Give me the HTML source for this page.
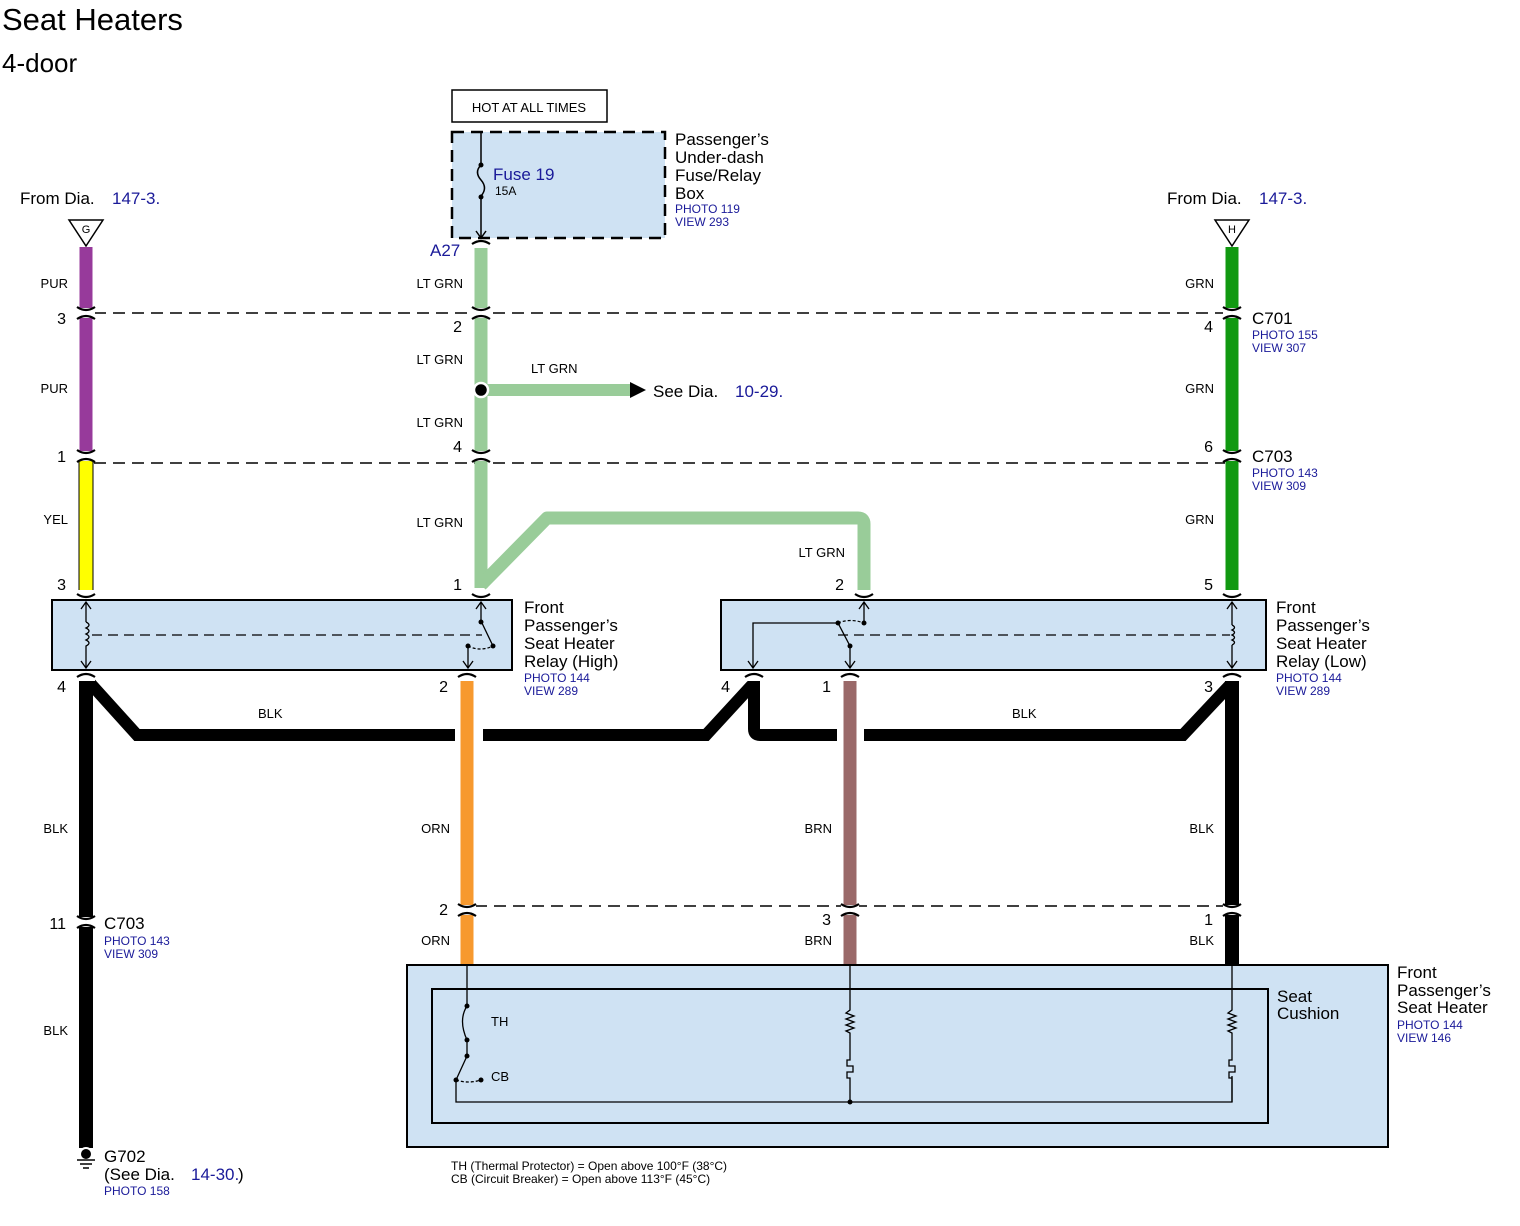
<!DOCTYPE html>
<html><head><meta charset="utf-8"><style>
body{margin:0;background:#fff}
svg{display:block;font-family:"Liberation Sans",Arial,sans-serif}
.b{fill:#1a1a99}
</style></head><body>
<svg width="1520" height="1226" viewBox="0 0 1520 1226" xmlns="http://www.w3.org/2000/svg">
<defs>
<g id="c"><rect x="-9" y="-5" width="18" height="10" fill="#fff"/><path d="M-9,-6 Q0,0 9,-6 M-9,6 Q0,0 9,6" stroke="#000" stroke-width="2.2" fill="none"/></g>
<g id="ct"><rect x="-9" y="0" width="18" height="6" fill="#fff"/><path d="M-9,2 Q0,-4 9,2" stroke="#000" stroke-width="2.2" fill="none"/></g>
<g id="cb"><rect x="-9" y="-6" width="18" height="6" fill="#fff"/><path d="M-9,-2 Q0,4 9,-2" stroke="#000" stroke-width="2.2" fill="none"/></g>
</defs>
<text x="2" y="30" font-size="31">Seat Heaters</text>
<text x="2" y="72" font-size="26">4-door</text>

<rect x="452" y="90" width="155" height="32" fill="#fff" stroke="#000" stroke-width="1.5"/>
<text x="529" y="112" font-size="13" text-anchor="middle">HOT AT ALL TIMES</text>
<rect x="452" y="132" width="213" height="106" fill="#cfe2f3" stroke="#000" stroke-width="2.5" stroke-dasharray="12,7"/>
<path d="M481,132 V165 Q474,172 481,180 Q488,188 481,196 V238 M476,231 L481,238 L486,231" stroke="#000" stroke-width="1.5" fill="none"/>
<circle cx="481" cy="165" r="2.5"/><circle cx="481" cy="197" r="2.5"/>
<text x="493" y="180" font-size="17" class="b">Fuse 19</text>
<text x="495" y="195" font-size="12">15A</text>
<g font-size="17"><text x="675" y="145">Passenger’s</text><text x="675" y="163">Under-dash</text><text x="675" y="181">Fuse/Relay</text><text x="675" y="199">Box</text></g>
<text x="675" y="213" font-size="12" class="b">PHOTO 119</text><text x="675" y="226" font-size="12" class="b">VIEW 293</text>
<text x="430" y="256" font-size="17" class="b">A27</text>

<text x="20" y="204" font-size="17">From Dia.</text><text x="112" y="204" font-size="17" class="b">147-3.</text>
<path d="M69,220 H103 L86,246 Z" fill="#fff" stroke="#000" stroke-width="1.5"/><text x="86" y="233" font-size="11" text-anchor="middle">G</text>
<text x="1167" y="204" font-size="17">From Dia.</text><text x="1259" y="204" font-size="17" class="b">147-3.</text>
<path d="M1215,220 H1249 L1232,246 Z" fill="#fff" stroke="#000" stroke-width="1.5"/><text x="1232" y="233" font-size="11" text-anchor="middle">H</text>

<g stroke="#000" stroke-width="1.5" stroke-dasharray="12,7" fill="none">
<path d="M94,313 H1225"/><path d="M94,463 H1225"/><path d="M475,906 H1225"/>
</g>

<g fill="none" stroke-width="13">
<path d="M86,247 V455" stroke="#973a9b"/>
<path d="M86,460 V593" stroke="#ffff00"/>
<path d="M86,460 V593" stroke="#000" stroke-width="1" transform="translate(-7,0)"/>
<path d="M86,460 V593" stroke="#000" stroke-width="1" transform="translate(7,0)"/>
<path d="M481,247 V588" stroke="#99cc99"/>
<path d="M481,585 L547,518 H858 Q864,518 864,524 V593" stroke="#99cc99" stroke-linejoin="round"/>
<path d="M481,390 H632" stroke="#99cc99" stroke-width="12"/>
<path d="M1232,247 V593" stroke="#119911"/>
<path d="M86,678 V1148" stroke="#000" stroke-width="14"/>
<path d="M90,683 L137,735 H455" stroke="#000" stroke-width="12"/>
<path d="M483,735 H706 L752,685" stroke="#000" stroke-width="12"/>
<path d="M754,678 V729 Q754,735 760,735 H837" stroke="#000" stroke-width="12"/>
<path d="M864,735 H1183 L1230,685" stroke="#000" stroke-width="12"/>
<path d="M1232,678 V965" stroke="#000" stroke-width="14"/>
<path d="M467,678 V965" stroke="#f7992e"/>
<path d="M850,678 V965" stroke="#9a6969"/>
</g>
<path d="M630,382 L646,390 L630,398 Z"/>
<circle cx="481" cy="390" r="7" fill="#000" stroke="#fff" stroke-width="2.5"/>
<text x="653" y="397" font-size="17">See Dia.</text><text x="735" y="397" font-size="17" class="b">10-29.</text>
<text x="531" y="373" font-size="13">LT GRN</text>

<use href="#c" x="86" y="313"/><use href="#c" x="481" y="313"/><use href="#c" x="1232" y="313"/>
<use href="#c" x="86" y="456"/><use href="#c" x="481" y="456"/><use href="#c" x="1232" y="456"/>
<use href="#ct" x="481" y="242"/>
<use href="#c" x="467" y="910"/><use href="#c" x="850" y="910"/><use href="#c" x="1232" y="910"/>
<use href="#c" x="86" y="922"/>
<use href="#cb" x="86" y="596"/><use href="#cb" x="481" y="596"/><use href="#cb" x="864" y="596"/><use href="#cb" x="1232" y="596"/>
<use href="#ct" x="86" y="675"/><use href="#ct" x="467" y="675"/><use href="#ct" x="754" y="675"/><use href="#ct" x="850" y="675"/><use href="#ct" x="1232" y="675"/>

<g font-size="13" text-anchor="end">
<text x="68" y="288">PUR</text><text x="68" y="393">PUR</text><text x="68" y="524">YEL</text>
<text x="68" y="833">BLK</text><text x="68" y="1035">BLK</text>
<text x="463" y="288">LT GRN</text><text x="463" y="364">LT GRN</text><text x="463" y="427">LT GRN</text><text x="463" y="527">LT GRN</text>
<text x="845" y="557">LT GRN</text>
<text x="1214" y="288">GRN</text><text x="1214" y="393">GRN</text><text x="1214" y="524">GRN</text>
<text x="450" y="833">ORN</text><text x="450" y="945">ORN</text>
<text x="832" y="833">BRN</text><text x="832" y="945">BRN</text>
<text x="1214" y="833">BLK</text><text x="1214" y="945">BLK</text>
</g>
<text x="258" y="718" font-size="13">BLK</text><text x="1012" y="718" font-size="13">BLK</text>

<g font-size="16" text-anchor="end">
<text x="66" y="324">3</text><text x="462" y="332">2</text><text x="1213" y="332">4</text>
<text x="66" y="462">1</text><text x="462" y="452">4</text><text x="1213" y="452">6</text>
<text x="66" y="590">3</text><text x="462" y="590">1</text><text x="844" y="590">2</text><text x="1213" y="590">5</text>
<text x="66" y="692">4</text><text x="448" y="692">2</text><text x="730" y="692">4</text><text x="831" y="692">1</text><text x="1213" y="692">3</text>
<text x="448" y="915">2</text><text x="831" y="925">3</text><text x="1213" y="925">1</text>
<text x="66" y="929">11</text>
</g>
<g font-size="17"><text x="1252" y="324">C701</text><text x="1252" y="462">C703</text><text x="104" y="929">C703</text></g>
<g font-size="12" class="b">
<text x="1252" y="339">PHOTO 155</text><text x="1252" y="352">VIEW 307</text>
<text x="1252" y="477">PHOTO 143</text><text x="1252" y="490">VIEW 309</text>
<text x="104" y="945">PHOTO 143</text><text x="104" y="958">VIEW 309</text>
</g>

<rect x="52" y="600" width="460" height="70" fill="#cfe2f3" stroke="#000" stroke-width="2"/>
<path d="M86,602 V622 M86,648 V668 M81,609 L86,602 L91,609 M81,661 L86,668 L91,661" stroke="#000" stroke-width="1.3" fill="none"/>
<path d="M86,622 q6,3 0,6 q6,3 0,6 q6,3 0,6 q6,3 0,6 V648" stroke="#000" stroke-width="1.3" fill="none"/>
<path d="M92,635 H482" stroke="#000" stroke-width="1.2" stroke-dasharray="10,6"/>
<path d="M481,602 V621 L493,646 M476,609 L481,602 L486,609 M468,646 V668 M463,661 L468,668 L473,661" stroke="#000" stroke-width="1.3" fill="none"/>
<path d="M468,646 Q480,652 493,646" stroke="#000" stroke-width="1.2" stroke-dasharray="3,2" fill="none"/>
<circle cx="481" cy="622" r="2.5"/><circle cx="493" cy="646" r="2.5"/><circle cx="468" cy="646" r="2.5"/>
<g font-size="17"><text x="524" y="613">Front</text><text x="524" y="631">Passenger’s</text><text x="524" y="649">Seat Heater</text><text x="524" y="667">Relay (High)</text></g>
<text x="524" y="682" font-size="12" class="b">PHOTO 144</text><text x="524" y="695" font-size="12" class="b">VIEW 289</text>

<rect x="721" y="600" width="545" height="70" fill="#cfe2f3" stroke="#000" stroke-width="2"/>
<path d="M1232,602 V625 M1232,645 V668 M1227,609 L1232,602 L1237,609 M1227,661 L1232,668 L1237,661" stroke="#000" stroke-width="1.3" fill="none"/>
<path d="M1232,625 q5,2.5 0,5 q5,2.5 0,5 q5,2.5 0,5 q5,2.5 0,5" stroke="#000" stroke-width="1.3" fill="none"/>
<path d="M838,635 H1230" stroke="#000" stroke-width="1.2" stroke-dasharray="10,6"/>
<path d="M864,602 V622 M859,609 L864,602 L869,609 M838,623 H753 V668 M748,661 L753,668 L758,661 M838,623 L850,646 V668 M845,661 L850,668 L855,661" stroke="#000" stroke-width="1.3" fill="none"/>
<path d="M838,623 Q850,618 864,623" stroke="#000" stroke-width="1.2" stroke-dasharray="3,2" fill="none"/>
<circle cx="838" cy="623" r="2.5"/><circle cx="864" cy="623" r="2.5"/><circle cx="850" cy="646" r="2.5"/>
<g font-size="17"><text x="1276" y="613">Front</text><text x="1276" y="631">Passenger’s</text><text x="1276" y="649">Seat Heater</text><text x="1276" y="667">Relay (Low)</text></g>
<text x="1276" y="682" font-size="12" class="b">PHOTO 144</text><text x="1276" y="695" font-size="12" class="b">VIEW 289</text>

<rect x="407" y="965" width="981" height="182" fill="#cfe2f3" stroke="#000" stroke-width="2"/>
<rect x="432" y="989" width="836" height="134" fill="none" stroke="#000" stroke-width="2"/>
<g stroke="#000" stroke-width="1.3" fill="none">
<path d="M467,965 V1006 Q458,1020 467,1040 V1056 L456,1080 V1102 H1232 V1076"/>
<path d="M456,1080 Q468,1084 481,1080" stroke-dasharray="3,2"/>
<path d="M850,965 V1010 l-4,3 8,3 -8,3 8,3 -8,3 8,3 -8,3 4,2 V1060 h-3 v6 h6 v6 h-6 v6 h3 V1102"/>
<path d="M1232,965 V1010 l-4,3 8,3 -8,3 8,3 -8,3 8,3 -8,3 4,2 V1060 h-3 v6 h6 v6 h-6 v6 h3 V1102"/>
</g>
<circle cx="467" cy="1006" r="2.5"/><circle cx="467" cy="1040" r="2.5"/><circle cx="467" cy="1056" r="2.5"/><circle cx="456" cy="1080" r="2.5"/><circle cx="481" cy="1080" r="2.5"/><circle cx="850" cy="1102" r="2.5"/>
<text x="491" y="1026" font-size="13">TH</text><text x="491" y="1081" font-size="13">CB</text>
<g font-size="17"><text x="1277" y="1002">Seat</text><text x="1277" y="1019">Cushion</text>
<text x="1397" y="978">Front</text><text x="1397" y="996">Passenger’s</text><text x="1397" y="1013">Seat Heater</text></g>
<text x="1397" y="1029" font-size="12" class="b">PHOTO 144</text><text x="1397" y="1042" font-size="12" class="b">VIEW 146</text>
<text x="451" y="1170" font-size="12">TH (Thermal Protector) = Open above 100°F (38°C)</text>
<text x="451" y="1183" font-size="12">CB (Circuit Breaker) = Open above 113°F (45°C)</text>

<circle cx="86" cy="1154" r="6" fill="#000" stroke="#fff" stroke-width="2"/>
<path d="M77,1160 H95 M80,1164 H92 M83,1168 H89" stroke="#000" stroke-width="1.5"/>
<g font-size="17"><text x="104" y="1162">G702</text><text x="104" y="1180">(See Dia.</text></g>
<text x="191" y="1180" font-size="17" class="b">14-30.</text><text x="238" y="1180" font-size="17">)</text>
<text x="104" y="1195" font-size="12" class="b">PHOTO 158</text>
</svg>
</body></html>
